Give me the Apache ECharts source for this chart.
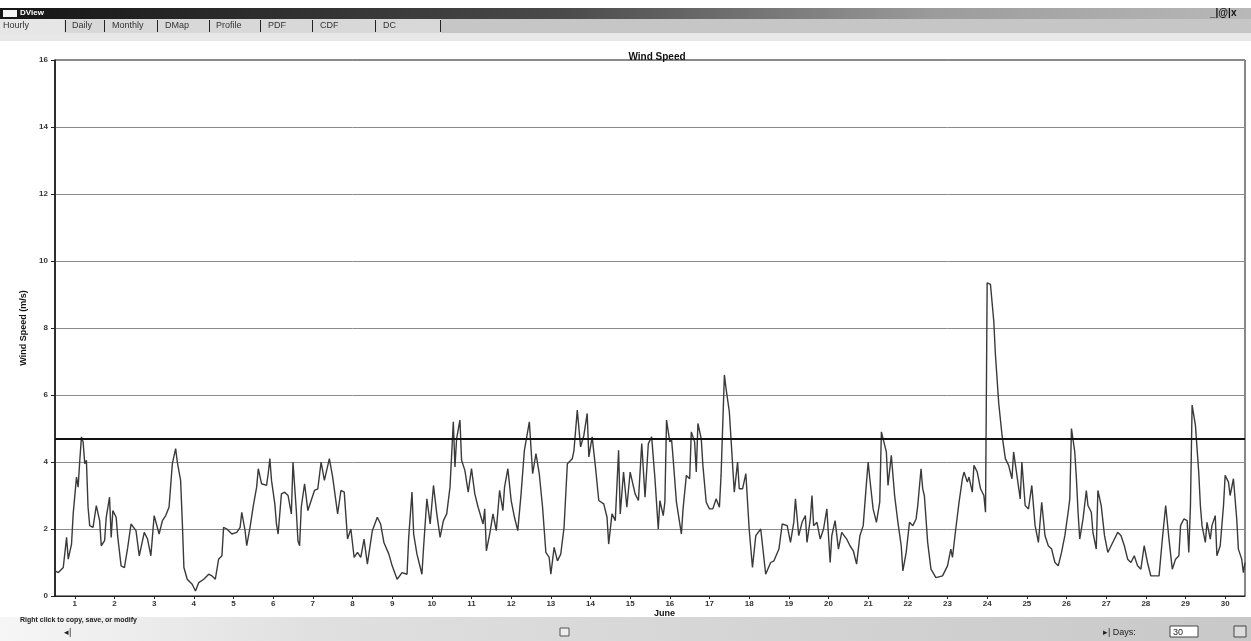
<!DOCTYPE html>
<html>
<head>
<meta charset="utf-8">
<title>Wind Speed</title>
<script src="https://cdn.jsdelivr.net/npm/echarts@6/dist/echarts.min.js"></script>
<style>
  html, body { margin: 0; padding: 0; background: #fff; }
  #chart { width: 1251px; height: 641px; }
</style>
</head>
<body>
<div id="chart"></div>
<script>
// hour of the month (0 = June 1 00:00) and wind speed (m/s)
const hours = [
  0, 2, 3, 5, 7, 8, 10, 11, 13, 14, 15, 16, 17, 18, 19, 20, 21, 23, 25, 27, 28, 30, 31, 33, 34, 35, 37, 38, 40, 42,
  44, 46, 49, 51, 54, 56, 58, 60, 63, 65, 67, 69, 71, 73, 74, 76, 77, 78, 80, 83, 85, 87, 90, 93, 95, 97, 99, 101, 102, 104,
  107, 110, 112, 113, 115, 116, 118, 120, 122, 123, 125, 128, 129, 130, 131, 133, 134, 135, 137, 139, 141, 143, 144, 146, 147, 148, 149, 151, 153, 155,
  157, 159, 161, 163, 166, 168, 171, 173, 175, 177, 179,
  181, 183, 185, 187, 189, 192, 195, 197, 199, 202, 204, 207, 210, 213, 214, 216, 217, 219, 222, 223, 225, 227, 229, 231, 233, 235, 237, 239, 241, 242,
  243, 245, 246, 248, 250, 252, 254, 256, 259, 260, 261, 263, 265, 267, 269, 271, 272, 274, 276, 278, 280, 282, 284, 287, 289, 291, 293, 295, 297, 299,
  300, 302, 304, 306, 308, 310, 313, 314, 316, 318, 320, 322, 323, 325, 327, 329, 332, 334, 335, 337, 339, 341, 342, 344, 346, 348, 351, 353, 355, 357,
  359, 361,
  363, 365, 366, 368, 369, 370, 372, 373, 374, 376, 379, 380, 382, 384, 385, 387, 388, 389, 391, 392, 394, 396, 398, 400, 402, 403, 405, 406, 408, 409,
  411, 413, 414, 416, 418, 420, 422, 424, 427, 430, 433, 435, 438, 440, 443, 445, 447, 448, 450, 452, 454, 455, 457, 458, 459, 461, 463, 465, 467, 469,
  470, 472, 474, 476, 479, 481, 483, 485, 487, 489, 491, 492, 493, 495, 497, 499, 500, 501, 503, 504, 506, 508, 510, 512, 513, 515, 517, 519, 521, 522,
  524, 525, 526, 528, 530, 533, 537, 540, 542,
  543, 545, 547, 549, 550, 552, 553, 555, 556, 558, 560, 562, 563, 564, 566, 568, 569, 571, 573, 575, 577, 579, 580, 582, 584, 585, 587, 589, 591, 593,
  595, 597, 599, 601, 603, 605, 607, 609, 611, 613, 614, 615, 617, 618, 619, 620, 622, 624, 625, 627, 628, 630, 631, 633, 635, 637, 639, 641, 643, 645,
  647, 649, 651, 653, 655, 657, 659, 661, 663, 665, 668, 670, 672, 674, 676, 678, 680, 681, 683, 685, 686, 687, 688, 689, 690, 692, 693, 694, 696, 697,
  699, 700, 702, 703, 705, 707, 708, 710, 711, 713, 715, 716, 718, 719, 720
]
const speeds = [
  0.75, 0.7, 0.65, 0.85, 1.75, 1.1, 1.55, 2.45, 3.55, 3.25, 4.05, 4.75, 4.6, 3.95, 4.05, 2.65, 2.1, 2.05, 2.7, 2.25, 1.5, 1.65, 2.35, 2.95, 1.75, 2.55, 2.35, 1.75, 0.9, 0.85,
  1.45, 2.15, 1.95, 1.2, 1.9, 1.7, 1.2, 2.4, 1.85, 2.25, 2.4, 2.65, 3.95, 4.4, 4.0, 3.45, 2.25, 0.85, 0.5, 0.35, 0.15, 0.4, 0.5, 0.65, 0.6, 0.5, 1.1, 1.2, 2.05, 2.0,
  1.85, 1.9, 2.05, 2.5, 1.95, 1.5, 2.05, 2.7, 3.25, 3.8, 3.35, 3.3, 3.65, 4.1, 3.45, 2.75, 2.15, 1.85, 3.05, 3.1, 3.0, 2.45, 4.0, 2.55, 1.65, 1.5, 2.65, 3.35, 2.55, 2.85,
  3.15, 3.2, 4.0, 3.45, 4.1, 3.55, 2.45, 3.15, 3.1, 1.7, 2.0,
  1.15, 1.3, 1.15, 1.7, 0.95, 1.95, 2.35, 2.15, 1.6, 1.25, 0.9, 0.5, 0.7, 0.65, 1.75, 3.1, 1.85, 1.25, 0.65, 1.45, 2.9, 2.15, 3.3, 2.45, 1.75, 2.25, 2.45, 3.25, 5.2, 3.85,
  4.7, 5.25, 4.05, 3.75, 3.1, 3.8, 3.05, 2.65, 2.15, 2.6, 1.35, 1.85, 2.45, 1.95, 3.15, 2.55, 3.25, 3.8, 2.85, 2.35, 1.95, 3.05, 4.35, 5.2, 3.65, 4.25, 3.65, 2.65, 1.3, 1.15,
  0.65, 1.45, 1.05, 1.25, 2.05, 3.95, 4.1, 4.35, 5.55, 4.45, 4.8, 5.45, 4.15, 4.75, 3.85, 2.85, 2.75, 2.35, 1.55, 2.45, 2.25, 4.35, 2.45, 3.7, 2.65, 3.7, 3.05, 2.85, 4.55, 2.95,
  4.55, 4.75,
  3.5, 2.0, 2.85, 2.4, 2.8, 5.25, 4.6, 4.7, 4.1, 2.8, 1.85, 2.6, 3.6, 3.5, 4.9, 4.6, 3.7, 5.15, 4.7, 3.9, 2.8, 2.6, 2.6, 2.9, 2.65, 3.6, 6.6, 6.2, 5.5, 4.7,
  3.1, 4.0, 3.2, 3.2, 3.65, 2.0, 0.85, 1.8, 2.0, 0.65, 1.0, 1.05, 1.4, 2.15, 2.1, 1.6, 2.2, 2.9, 1.8, 2.2, 2.4, 1.6, 2.3, 3.0, 2.1, 2.2, 1.7, 2.0, 2.6, 1.0,
  1.8, 2.25, 1.4, 1.9, 1.7, 1.5, 1.35, 0.95, 1.8, 2.1, 3.4, 4.0, 3.5, 2.6, 2.2, 2.8, 4.9, 4.85, 4.3, 3.3, 4.2, 3.0, 2.2, 1.5, 0.75, 1.3, 2.2, 2.1, 2.3, 2.7,
  3.8, 3.2, 3.0, 1.6, 0.8, 0.55, 0.6, 0.9, 1.4,
  1.15, 2.0, 2.8, 3.5, 3.7, 3.4, 3.55, 3.1, 3.9, 3.7, 3.2, 3.0, 2.5, 9.35, 9.3, 8.2, 7.2, 5.75, 4.8, 4.1, 3.9, 3.5, 4.3, 3.6, 2.9, 4.0, 2.7, 2.6, 3.3, 2.1,
  1.6, 2.8, 1.8, 1.5, 1.4, 1.0, 0.9, 1.3, 1.8, 2.5, 2.9, 5.0, 4.3, 3.5, 2.5, 1.7, 2.3, 3.15, 2.7, 2.5, 1.9, 1.4, 3.15, 2.7, 1.8, 1.3, 1.5, 1.7, 1.9, 1.8,
  1.5, 1.1, 1.0, 1.2, 0.9, 0.8, 1.5, 1.0, 0.6, 0.6, 0.6, 1.7, 2.7, 1.7, 0.8, 1.1, 1.2, 2.1, 2.3, 2.25, 1.3, 2.7, 5.7, 5.65, 5.1, 3.7, 2.7, 2.1, 1.6, 2.2,
  1.7, 2.1, 2.4, 1.2, 1.5, 2.7, 3.6, 3.4, 3.0, 3.5, 2.3, 1.4, 1.1, 0.7, 1.0
]
const dayLabels = [1, 2, 3, 4, 5, 6, 7, 8, 9, 10, 11, 12, 13, 14, 15, 16, 17, 18, 19, 20, 21, 22, 23, 24, 25, 26, 27, 28, 29, 30]
const tabNames = ['Hourly', 'Daily', 'Monthly', 'DMap', 'Profile', 'PDF', 'CDF', 'DC']
const meanSpeed = 4.7

const chart = echarts.init(document.getElementById('chart'))

const font = 'Liberation Sans, Arial, sans-serif'
// labels sit at mid-day
const dayTicks = dayLabels.map(d => (d - 1) * 24 + 12)

// tab strip: label left edges and separator positions
const tabX = [3, 72, 112, 165, 216, 268, 320, 383]
const tabSepX = [65, 104, 157, 209, 260, 312, 375, 440]
const tabGraphics = []
tabNames.forEach((name, i) => {
  tabGraphics.push({ type: 'text', x: tabX[i], y: 21, silent: true, style: { text: name, fill: '#333', font: '9px ' + font } })
  tabGraphics.push({ type: 'rect', shape: { x: tabSepX[i], y: 20, width: 1, height: 12 }, silent: true, style: { fill: '#222' } })
})

const option = {
  backgroundColor: '#fff',
  animation: false,
  textStyle: { fontFamily: font },
  title: {
    text: 'Wind Speed',
    left: 652,
    top: 47,
    textAlign: 'center',
    textStyle: { fontSize: 10, fontWeight: 'bold', color: '#111' }
  },
  graphic: [
    // window title bar
    {
      type: 'rect', shape: { x: 0, y: 8, width: 1251, height: 11 }, silent: true,
      style: {
        fill: new echarts.graphic.LinearGradient(0, 0, 1, 0, [
          { offset: 0, color: '#151515' },
          { offset: 0.45, color: '#4a4a4a' },
          { offset: 0.75, color: '#9c9c9c' },
          { offset: 1, color: '#b8b8b8' }
        ])
      }
    },
    { type: 'rect', shape: { x: 3, y: 10, width: 14, height: 7 }, style: { fill: '#f4f4f4' }, silent: true },
    { type: 'text', x: 20, y: 9, silent: true, style: { text: 'DView', fill: '#fff', font: 'bold 8px ' + font } },
    { type: 'text', x: 1210, y: 8, silent: true, style: { text: '_|@|x', fill: '#111', font: 'bold 10px ' + font } },
    // tab strip
    { type: 'rect', shape: { x: 0, y: 19, width: 1251, height: 14 }, style: { fill: '#d8d8d8' }, silent: true },
    { type: 'rect', shape: { x: 441, y: 19, width: 810, height: 14 }, style: { fill: '#c6c6c6' }, silent: true },
    { type: 'rect', shape: { x: 0, y: 19, width: 64, height: 14 }, style: { fill: '#e6e6e6' }, silent: true },
    ...tabGraphics,
    { type: 'rect', shape: { x: 0, y: 33, width: 1251, height: 8 }, style: { fill: '#e8e8e8' }, silent: true },
    // x axis month name
    { type: 'text', x: 654, y: 609, silent: true, style: { text: 'June', fill: '#111', font: 'bold 9px ' + font } },
    // bottom strip
    {
      type: 'rect', shape: { x: 0, y: 617, width: 1251, height: 24 }, silent: true,
      style: {
        fill: new echarts.graphic.LinearGradient(0, 0, 1, 0, [
          { offset: 0, color: '#f6f6f6' },
          { offset: 0.25, color: '#e0e0e0' },
          { offset: 1, color: '#c8c8c8' }
        ])
      }
    },
    { type: 'text', x: 20, y: 617, silent: true, style: { text: 'Right click to copy, save, or modify', fill: '#222', font: 'bold 7px ' + font } },
    { type: 'text', x: 64, y: 628, silent: true, style: { text: '◂|', fill: '#222', font: '9px ' + font } },
    { type: 'rect', shape: { x: 560, y: 628, width: 9, height: 8 }, style: { fill: '#eee', stroke: '#555', lineWidth: 1 }, silent: true },
    { type: 'text', x: 1103, y: 628, silent: true, style: { text: '▸| Days:', fill: '#222', font: '9px ' + font } },
    { type: 'rect', shape: { x: 1170, y: 626, width: 28, height: 11 }, style: { fill: '#fff', stroke: '#444', lineWidth: 1 }, silent: true },
    { type: 'text', x: 1173, y: 628, silent: true, style: { text: '30', fill: '#222', font: '9px ' + font } },
    { type: 'rect', shape: { x: 1234, y: 626, width: 12, height: 11 }, style: { fill: '#ddd', stroke: '#444', lineWidth: 1 }, silent: true }
  ],
  grid: {
    left: 55,
    right: 6,
    top: 60,
    bottom: 45,
    show: true,
    backgroundColor: '#fff',
    borderColor: '#111',
    borderWidth: 1
  },
  xAxis: {
    type: 'value',
    min: 0,
    max: 720,
    axisLine: { onZero: false, lineStyle: { color: '#222', width: 1 } },
    axisTick: { customValues: dayTicks, length: 3, lineStyle: { color: '#222' } },
    axisLabel: {
      customValues: dayTicks,
      formatter: v => String(Math.round((v - 12) / 24) + 1),
      fontSize: 8,
      fontWeight: 'bold',
      color: '#333',
      margin: 4
    },
    splitLine: { show: false }
  },
  yAxis: {
    type: 'value',
    min: 0,
    max: 16,
    interval: 2,
    name: 'Wind Speed (m/s)',
    nameLocation: 'middle',
    nameRotate: 90,
    nameGap: 24,
    nameTextStyle: { fontSize: 9, fontWeight: 'bold', color: '#111' },
    axisLine: { show: true, lineStyle: { color: '#111', width: 1.5 } },
    axisTick: { show: true, length: 4, lineStyle: { color: '#222' } },
    axisLabel: { fontSize: 8, fontWeight: 'bold', color: '#333', margin: 7 },
    splitLine: { show: true, lineStyle: { color: '#8a8a8a', width: 1 } }
  },
  series: [
    {
      name: 'Wind Speed',
      type: 'line',
      data: hours.map((h, i) => [h, speeds[i]]),
      showSymbol: false,
      smooth: false,
      lineStyle: { color: '#3a3a3a', width: 1.4 },
      markLine: {
        silent: true,
        symbol: 'none',
        label: { show: false },
        lineStyle: { color: '#111', width: 2, type: 'solid' },
        data: [{ yAxis: meanSpeed }]
      }
    }
  ]
}

chart.setOption(option)
window.addEventListener('resize', () => chart.resize())
</script>
</body>
</html>
